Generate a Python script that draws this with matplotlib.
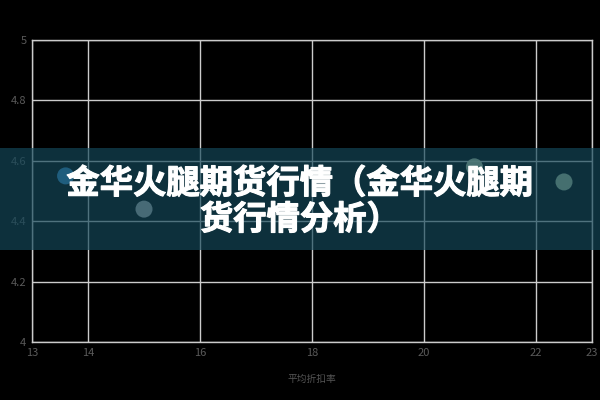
import matplotlib.pyplot as plt
import matplotlib.patheffects as pe
from matplotlib.patches import Rectangle

plt.rcParams['font.family'] = ['Noto Sans CJK SC', 'DejaVu Sans']

# data
discount = [13.6, 15.0, 20.9, 22.5]
price = [4.55, 4.44, 4.58, 4.53]
colors = ['#3f9ae0', '#c8c8c8', '#d0e0b8', '#c0d8b0']

x_ticks = [13, 14, 16, 18, 20, 22, 23]
y_ticks = [4, 4.2, 4.4, 4.6, 4.8, 5]
title = '金华火腿期货行情（金华火腿期\n货行情分析）'
x_label = '平均折扣率'

fig = plt.figure(figsize=(6, 4), dpi=100, facecolor='black')
ax = fig.add_axes([32 / 600, 1 - 342 / 400, 560 / 600, 302 / 400])
ax.set_facecolor('black')

ax.scatter(discount, price, s=150, c=colors, alpha=0.9, zorder=3, linewidths=0)

ax.set_xlim(13, 23)
ax.set_ylim(4, 5)
ax.set_xticks(x_ticks)
ax.set_yticks(y_ticks)
ax.set_yticklabels(['4', '4.2', '4.4', '4.6', '4.8', '5'])
ax.tick_params(colors='#5a5a5a', labelsize=8, length=0, pad=4)
ax.grid(True, color='#cccccc', linewidth=1)
for s in ax.spines.values():
    s.set_color('#cccccc')
    s.set_linewidth(1)
ax.set_xlabel(x_label, color='#555555', fontsize=7, labelpad=12)

# dark banner with title over the middle of the chart
fig.patches.append(Rectangle((0, 1 - 250 / 400), 1, 102 / 400, transform=fig.transFigure,
                             facecolor='#14485a', alpha=0.68, zorder=5))
fig.text(0.5, 1 - 202 / 400, title, ha='center', va='center', color='white',
         fontsize=24, fontweight='bold', linespacing=1.12, zorder=6,
         path_effects=[pe.withStroke(linewidth=0.8, foreground='white')])

fig.savefig('out.png', dpi=100, facecolor='black')
